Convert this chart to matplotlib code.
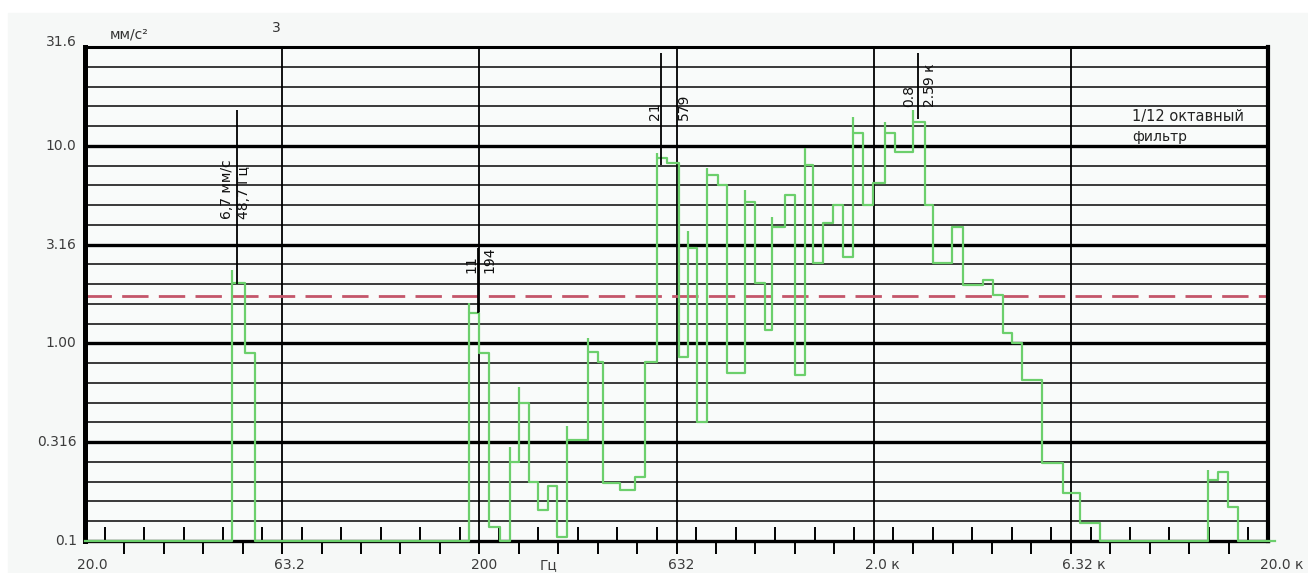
import matplotlib
matplotlib.use('Agg')
import matplotlib.pyplot as plt
from matplotlib.patches import Rectangle
from matplotlib.ticker import FixedLocator, NullFormatter, NullLocator

# Спектр 1/12 октавы: частота начала ступени (Гц) и уровень (мм/с²)
step_freq = [20.0, 47.2, 50.9, 54.0, 188.3, 199.7, 211.7, 225.6, 239.3, 252.2,
             267.3, 281.8, 298.8, 314.9, 333.9, 377.4, 400.0, 411.8, 454.8, 496.6,
             526.5, 564.5, 598.5, 642.0, 676.6, 713.3, 756.3, 806.3, 849.8, 944.0,
             1000.6, 1060.8, 1105.0, 1192.2, 1263.9, 1339.8, 1404, 1488, 1578, 1673,
             1773, 1880, 1993, 2138, 2267, 2518, 2700, 2830, 3162, 3371,
             3790, 4018, 4258, 4488, 4758, 5348, 6044, 6676, 7504, 14096,
             14944, 15842, 16796, 20840]
step_level = [0.1, 2.02, 0.89, 0.1, 1.43, 0.89, 0.118, 0.1, 0.25, 0.50,
              0.20, 0.144, 0.19, 0.105, 0.324, 0.905, 0.805, 0.197, 0.181, 0.211,
              0.805, 8.68, 8.19, 0.853, 3.04, 0.40, 7.12, 6.34, 0.708, 5.20,
              2.02, 1.17, 3.88, 5.64, 0.69, 8.0, 2.55, 4.07, 5.0, 2.74,
              11.6, 5.0, 6.48, 11.6, 9.3, 13.2, 5.0, 2.55, 3.88, 1.98,
              2.09, 1.76, 1.13, 1.0, 0.65, 0.248, 0.175, 0.123, 0.1, 0.204,
              0.224, 0.149, 0.1, 0.1]

# выбросы на передних фронтах ступеней
spike_freq = [47.2, 188.3, 239.3, 252.2, 333.9, 377.4, 564.5, 676.6, 756.3,
              944.0, 1105.0, 1339.8, 1773, 2138, 2518, 14096]
spike_top = [2.35, 1.6, 0.30, 0.60, 0.38, 1.07, 9.2, 3.7, 7.7,
             5.96, 4.37, 9.8, 14.0, 13.2, 15.2, 0.23]

# маркеры
marker_freq = [48.7, 199, 579, 2590]
marker_lo = [2.0, 1.43, 8.0, 13.6]
marker_hi = [15.2, 3.04, 29.5, 29.5]
marker_text_y = [4.26, 2.27, 13.5, 15.7]
marker_left = ['6,7 мм/с', '11', '21', '0.8']
marker_right = ['48,7 Гц', '194', '579', '2.59 к']

threshold = 1.74

y_ticks = [31.62, 10.0, 3.162, 1.0, 0.3162, 0.1]
y_labels = ['31.6', '10.0', '3.16', '1.00', '0.316', '0.1']
x_ticks = [20, 63.2, 200, 632, 2000, 6320, 20000]
x_labels = ['20.0', '63.2', '200', '632', '2.0 к', '6.32 к', '20.0 к']

W, H = 1308, 573
fig = plt.figure(figsize=(W / 100, H / 100), dpi=100, facecolor='white')
fig.patches.append(Rectangle((8 / W, 0), 1, 1 - 13 / H, transform=fig.transFigure,
                             color='#f6f8f7', zorder=-10))
ax = fig.add_axes([85 / W, 32 / H, 1183 / W, 494 / H])
ax.set_facecolor('#f9fbfa')
ax.set_xscale('log')
ax.set_yscale('log')
ax.set_xlim(20, 20000)
ax.set_ylim(0.1, 31.62)

# сетка
for k in range(1, 25):
    y = 0.1 * 10 ** (k / 10)
    if k % 5 == 0:
        ax.axhline(y, color='black', lw=2.4, zorder=1)
    else:
        ax.axhline(y, color='#2a2a2a', lw=1.3, zorder=1)
for k in range(1, 6):
    ax.axvline(20 * 10 ** (k / 2), color='black', lw=1.3, zorder=1)

# засечки оси частот
ax.xaxis.set_major_locator(FixedLocator([20 * 10 ** (k / 10) for k in range(1, 30)]))
ax.xaxis.set_minor_locator(FixedLocator([20 * 10 ** ((2 * k + 1) / 20) for k in range(30)]))
ax.xaxis.set_major_formatter(NullFormatter())
ax.xaxis.set_minor_formatter(NullFormatter())
ax.tick_params(axis='x', which='major', direction='out', length=9.5, width=1.4, color='black')
ax.tick_params(axis='x', which='minor', direction='in', length=10, width=1.4, color='black')
ax.yaxis.set_major_locator(NullLocator())
ax.yaxis.set_minor_locator(NullLocator())

for side, lw in [('left', 3.6), ('top', 2.2), ('right', 3.0), ('bottom', 2.4)]:
    ax.spines[side].set_linewidth(lw)
    ax.spines[side].set_color('black')

# порог
ax.axhline(threshold, color='#c4566a', lw=2, dashes=(9.5, 3.7), zorder=2)

# спектр
ax.step(step_freq, step_level, where='post', color='#6ccf6c', lw=1.6,
        zorder=4, clip_on=False)
spike_lo = [step_level[step_freq.index(f)] for f in spike_freq]
ax.vlines(spike_freq, spike_lo, spike_top, color='#6ccf6c', lw=1.6, zorder=4)

# маркеры
left_dx = [-10, -7.5, -6, -9]
right_dx = [7, 10.5, 23, 12]
for i, f in enumerate(marker_freq):
    ax.vlines(f, marker_lo[i], marker_hi[i], color='black', lw=1.3, zorder=5)
    ax.annotate(marker_left[i], xy=(f, marker_text_y[i]), xytext=(left_dx[i] * 0.72, 0),
                textcoords='offset points', rotation=90, ha='center', va='bottom',
                fontsize=10, color='#111111', zorder=6)
    ax.annotate(marker_right[i], xy=(f, marker_text_y[i]), xytext=(right_dx[i] * 0.72, 0),
                textcoords='offset points', rotation=90, ha='center', va='bottom',
                fontsize=10, color='#111111', zorder=6)

# подписи осей
for v, lab in zip(y_ticks, y_labels):
    dy = 3.5 if lab == '31.6' else 0
    ax.annotate(lab, xy=(0, v), xycoords=('axes fraction', 'data'),
                xytext=(-6, dy), textcoords='offset points', ha='right', va='center',
                fontsize=10, color='#3c3c3c', annotation_clip=False)
for f, lab in zip(x_ticks, x_labels):
    ax.annotate(lab, xy=(f, 0), xycoords=('data', 'axes fraction'),
                xytext=(-6, -12), textcoords='offset points', ha='left', va='top',
                fontsize=10, color='#3c3c3c', annotation_clip=False)
ax.annotate('Гц', xy=(455 / 1183, 0), xycoords='axes fraction',
            xytext=(0, -12), textcoords='offset points', ha='left', va='top',
            fontsize=10, color='#3c3c3c', annotation_clip=False)

fig.text(110 / W, 1 - 34 / H, 'мм/с²', ha='left', va='center', fontsize=10, color='#333333')
fig.text(276 / W, 1 - 28 / H, '3', ha='center', va='center', fontsize=10, color='#333333')
fig.text(1132 / W, 1 - 117 / H, '1/12 октавный', ha='left', va='center', fontsize=10.5,
         color='#222222')
fig.text(1132 / W, 1 - 137 / H, 'фильтр', ha='left', va='center', fontsize=10,
         color='#222222')

fig.savefig('out.png', dpi=100, facecolor=fig.get_facecolor())
